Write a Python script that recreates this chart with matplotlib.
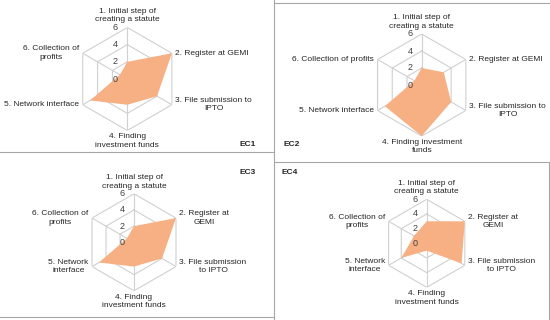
import numpy as np
import matplotlib.pyplot as plt
from matplotlib.lines import Line2D

plt.rcParams['font.family'] = ['Liberation Sans', 'DejaVu Sans']

# values (categories 1..6, clockwise from top)
ec1_values = [2, 6, 4, 3, 5, 1]
ec2_values = [2, 3, 4, 6, 5, 1]
ec3_values = [2, 6, 4, 3, 5, 1]
ec4_values = [3, 6, 5.5, 1, 4, 2]

# category labels (line breaks differ from panel to panel)
labels_ec1 = ["1. Initial step of\ncreating a statute", "2. Register at GEMI",
              "3. File submission to\nIPTO", "4. Finding\ninvestment funds",
              "5. Network interface", "6. Collection of\nprofits"]
labels_ec2 = ["1. Initial step of\ncreating a statute", "2. Register at GEMI",
              "3. File submission to\nIPTO", "4. Finding investment\nfunds",
              "5. Network interface", "6. Collection of profits"]
labels_ec34 = ["1. Initial step of\ncreating a statute", "2. Register at\nGEMI",
               "3. File submission\nto IPTO", "4. Finding\ninvestment funds",
               "5. Network\ninterface", "6. Collection of\nprofits"]
rings = [2, 4, 6]
radial_ticks = [0, 2, 4, 6]

W, H = 550, 320
fill_color = '#f7b083'
grid_color = '#d0d0d0'
border_color = '#a6a6a6'
label_size = 6.0

fig = plt.figure(figsize=(W / 100, H / 100), dpi=100)

# panel: values, labels, centre x, centre y, radius (pixels)
panels = [
    (ec1_values, labels_ec1, 127.3, 79, 51.5),
    (ec2_values, labels_ec2, 421.7, 85, 51),
    (ec3_values, labels_ec34, 134, 242.3, 48.5),
    (ec4_values, labels_ec34, 426.7, 243.3, 44),
]

n = 6
angles = np.arange(n) * 2 * np.pi / n
closed = np.append(angles, angles[0])

for values, labels, cx, cy, rad in panels:
    ax = fig.add_axes([(cx - rad) / W, 1 - (cy + rad) / H, 2 * rad / W, 2 * rad / H],
                      projection='polar')
    ax.set_theta_offset(np.pi / 2)
    ax.set_theta_direction(-1)
    ax.set_ylim(0, 6)
    ax.set_xticks([])
    ax.set_yticks([])
    ax.grid(False)
    ax.spines['polar'].set_visible(False)
    ax.patch.set_alpha(0)

    for r in rings:
        ax.plot(closed, [r] * (n + 1), color=grid_color, lw=0.8, zorder=1)
    for a in angles:
        ax.plot([a, a], [0, 6], color=grid_color, lw=0.8, zorder=1)

    vals = list(values) + [values[0]]
    ax.fill(closed, vals, color=fill_color, lw=0, zorder=2)

    for t in radial_ticks:
        ax.annotate(str(t), xy=(0, t), xytext=(-8.5, 0), textcoords='offset points',
                    ha='center', va='center', fontsize=6.5, color='#404040',
                    annotation_clip=False, zorder=3)

    # label placement per direction
    place = [((0, 3), 'center', 'bottom'),
             ((2.5, 0), 'left', 'center'),
             ((2.5, 0), 'left', 'center'),
             ((0, -2), 'center', 'top'),
             ((-2.5, 0), 'right', 'center'),
             ((-2.5, 0), 'right', 'center')]
    for a, lab, (off, ha, va) in zip(angles, labels, place):
        ax.annotate(lab, xy=(a, 6), xytext=off, textcoords='offset points',
                    ha=ha, va=va, multialignment='center', fontsize=label_size,
                    color='#262626', annotation_clip=False, linespacing=1.3)

# panel names
for name, x, y in [("EC1", 248, 144), ("EC2", 292, 144), ("EC3", 248, 173), ("EC4", 290, 172)]:
    fig.text(x / W, 1 - y / H, name, ha='center', va='center', fontsize=6,
             fontweight='bold', color='#262626')

# panel frame lines
frame = [((0, 274), (152, 152)), ((275, 550), (3, 3)), ((274, 274), (0, 320)),
         ((275, 550), (162, 162)), ((549, 549), (162, 320)), ((0, 274), (317, 317))]
for xs, ys in frame:
    fig.add_artist(Line2D([xs[0] / W, xs[1] / W], [1 - ys[0] / H, 1 - ys[1] / H],
                          color=border_color, lw=0.8, transform=fig.transFigure))

fig.savefig('out.png', dpi=100)
